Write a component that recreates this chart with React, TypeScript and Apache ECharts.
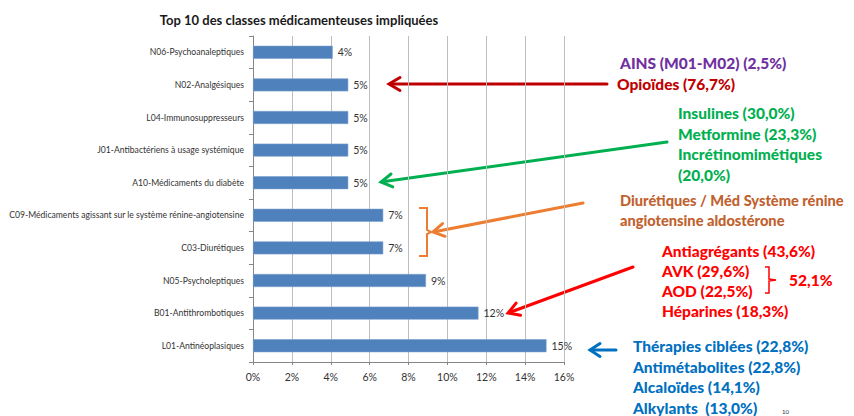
import React, { useEffect, useRef } from "react";
import * as echarts from "echarts";

const title = "Top 10 des classes médicamenteuses impliquées";
const categories = [
  "N06-Psychoanaleptiques",
  "N02-Analgésiques",
  "L04-Immunosuppresseurs",
  "J01-Antibactériens à usage systémique",
  "A10-Médicaments du diabète",
  "C09-Médicaments agissant sur le système rénine-angiotensine",
  "C03-Diurétiques",
  "N05-Psycholeptiques",
  "B01-Antithrombotiques",
  "L01-Antinéoplasiques",
];
const values = [4.1, 4.9, 4.9, 4.9, 4.9, 6.7, 6.7, 8.9, 11.6, 15.1];
const xTicks = { min: 0, max: 16, interval: 2 };

const ainsText = ["AINS (M01-M02) (2,5%)"];
const opioidText = ["Opioïdes (76,7%)"];
const diabeteText = ["Insulines (30,0%)", "Metformine (23,3%)", "Incrétinomimétiques", "(20,0%)"];
const cardioText = ["Diurétiques / Méd Système rénine", "angiotensine aldostérone"];
const thromboText = ["Antiagrégants (43,6%)", "AVK (29,6%)", "AOD (22,5%)", "Héparines (18,3%)"];
const thromboSum = "52,1%";
const oncoText = ["Thérapies ciblées (22,8%)", "Antimétabolites (22,8%)", "Alcaloïdes (14,1%)", "Alkylants  (13,0%)"];

const FONT = "Lato, 'Noto Sans', sans-serif";

function arrow(x1: number, y1: number, x2: number, y2: number, color: string, w: number, head = 11, half = 6.5) {
  const dx = x2 - x1, dy = y2 - y1;
  const L = Math.sqrt(dx * dx + dy * dy);
  const ux = dx / L, uy = dy / L;
  const bx = x2 - ux * head, by = y2 - uy * head;
  const px = -uy * half, py = ux * half;
  return [
    { type: "line", shape: { x1, y1, x2: x2 - ux * 1.5, y2: y2 - uy * 1.5 }, style: { stroke: color, lineWidth: w, lineCap: "round" }, silent: true },
    {
      type: "polyline",
      shape: { points: [[bx + px, by + py], [x2, y2], [bx - px, by - py]] },
      style: { stroke: color, lineWidth: w, fill: null, lineJoin: "miter", lineCap: "round" },
      silent: true,
    },
  ];
}

function textLines(lines: string[], x: number, yStart: number, step: number, color: string, size = 15.5) {
  return lines.map((t, i) => ({
    type: "text",
    x,
    y: yStart + i * step,
    style: { text: t, fill: color, font: `900 ${size}px ${FONT}`, textVerticalAlign: "middle", textAlign: "left" },
    silent: true,
  }));
}

export default function App() {
  const ref = useRef<HTMLDivElement>(null);
  useEffect(() => {
    if (!ref.current) return;
    const chart = echarts.init(ref.current, null, { renderer: "svg" });
    const graphics: any[] = [
      ...textLines(ainsText, 620, 63, 20, "#7030A0"),
      ...textLines(opioidText, 617, 84, 20, "#C00000"),
      ...arrow(607, 84, 389, 84, "#C00000", 3),
      ...textLines(diabeteText, 678, 113, 20.5, "#00B050"),
      ...arrow(667, 142, 381, 182, "#00B050", 3),
      ...textLines(cardioText, 620, 200, 20, "#C0622F", 14.6),
      {
        type: "polyline",
        shape: { points: [[419, 208], [427, 208], [427, 230], [431, 232], [427, 234], [427, 256], [419, 256]] },
        style: { stroke: "#ED7D31", lineWidth: 2, fill: null },
        silent: true,
      },
      ...arrow(583, 203, 433, 232, "#ED7D31", 3),
      ...textLines(thromboText, 662, 251, 20, "#FF0000"),
      {
        type: "polyline",
        shape: { points: [[765, 267], [769, 267], [769, 279], [776, 280], [769, 281], [769, 293], [765, 293]] },
        style: { stroke: "#FF0000", lineWidth: 1.5, fill: null },
        silent: true,
      },
      {
        type: "text",
        x: 789,
        y: 280,
        style: { text: thromboSum, fill: "#FF0000", font: `900 15.5px ${FONT}`, textVerticalAlign: "middle" },
        silent: true,
      },
      ...arrow(633, 267, 508, 313, "#FF0000", 3),
      ...textLines(oncoText, 633, 346, 20.5, "#0070C0"),
      ...arrow(616, 350, 590, 350, "#0070C0", 3, 10, 6.5),
      {
        type: "text",
        x: 782,
        y: 411,
        style: { text: "10", fill: "#333", font: `6px ${FONT}`, textVerticalAlign: "middle" },
        silent: true,
      },
    ];
    chart.setOption({
      animation: false,
      backgroundColor: "#ffffff",
      title: {
        text: title,
        left: 294,
        top: 8,
        textAlign: "center",
        textStyle: { fontFamily: FONT, fontWeight: "bold", fontSize: 13, color: "#1a1a1a" },
      },
      grid: { left: 253, right: 290, top: 36, bottom: 54 },
      xAxis: {
        type: "value",
        min: xTicks.min,
        max: xTicks.max,
        interval: xTicks.interval,
        axisLabel: { formatter: (v: number) => `${v}%`, color: "#333", fontFamily: FONT, fontSize: 10.5, margin: 9 },
        axisLine: { show: true, lineStyle: { color: "#868686" } },
        axisTick: { show: true, length: 3, lineStyle: { color: "#868686" } },
        splitLine: { show: true, lineStyle: { color: "#BEBEBE", width: 1 } },
      },
      yAxis: {
        type: "category",
        data: categories,
        inverse: true,
        axisLabel: { color: "#333", fontFamily: FONT, fontSize: 8.6, margin: 9 },
        axisLine: { show: true, lineStyle: { color: "#868686" } },
        axisTick: { show: true, length: 4, lineStyle: { color: "#868686" } },
        splitLine: { show: false },
      },
      series: [
        {
          type: "bar",
          data: values,
          barWidth: 13,
          itemStyle: { color: "#4F81BD", borderColor: "#7BA0CD", borderWidth: 0.6 },
          label: {
            show: true,
            position: "right",
            distance: 5,
            formatter: (p: any) => `${Math.round(p.value)}%`,
            color: "#333",
            fontFamily: FONT,
            fontSize: 10.5,
          },
        },
      ],
      graphic: graphics,
    });
    return () => chart.dispose();
  }, []);
  return <div ref={ref} style={{ position: "fixed", left: 0, top: 0, width: 854, height: 416 }} />;
}
